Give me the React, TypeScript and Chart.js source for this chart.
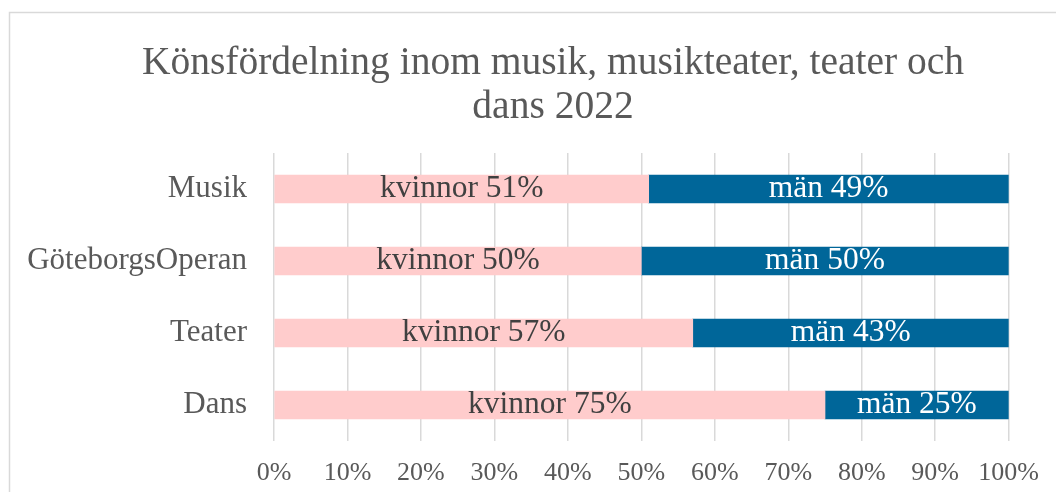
import React, { useEffect, useRef } from "react";
import { Chart, registerables } from "chart.js";

Chart.register(...registerables);

const titleLines = ["Könsfördelning inom musik, musikteater, teater och", "dans 2022"];
const categories = ["Musik", "GöteborgsOperan", "Teater", "Dans"];
const kvinnor = [51, 50, 57, 75];
const man = [49, 50, 43, 25];
const seriesNames = ["kvinnor", "män"];

const FONT = "'Liberation Serif', 'Times New Roman', serif";

const labelPlugin = {
  id: "segLabels",
  beforeDraw(chart: any) {
    const ctx = chart.ctx;
    ctx.save();
    ctx.strokeStyle = "#d9d9d9";
    ctx.lineWidth = 1.5;
    ctx.strokeRect(9.5, 12.5, 1200, 600);
    ctx.restore();
  },
  afterDraw(chart: any) {
    const ctx = chart.ctx;
    ctx.save();
    ctx.font = `39.5px ${FONT}`;
    ctx.fillStyle = "#595959";
    ctx.textAlign = "center";
    ctx.textBaseline = "alphabetic";
    titleLines.forEach((line, i) => {
      ctx.fillText(line, 553, 74 + i * 43.5);
    });
    ctx.restore();
  },
  afterDatasetsDraw(chart: any) {
    const ctx = chart.ctx;
    ctx.save();
    ctx.font = `31.5px ${FONT}`;
    ctx.textAlign = "center";
    ctx.textBaseline = "middle";
    chart.data.datasets.forEach((ds: any, di: number) => {
      const meta = chart.getDatasetMeta(di);
      meta.data.forEach((bar: any, i: number) => {
        const left = Math.min(bar.x, bar.base);
        const right = Math.max(bar.x, bar.base);
        ctx.fillStyle = di === 0 ? "#404040" : "#ffffff";
        ctx.fillText(`${seriesNames[di]} ${ds.data[i]}%`, (left + right) / 2, bar.y);
      });
    });
    ctx.restore();
  },
};

export default function App() {
  const ref = useRef<HTMLCanvasElement | null>(null);
  useEffect(() => {
    if (!ref.current) return;
    const chart = new Chart(ref.current, {
      type: "bar",
      data: {
        labels: categories,
        datasets: [
          { label: seriesNames[0], data: kvinnor, backgroundColor: "#ffcccc", barThickness: 28 },
          { label: seriesNames[1], data: man, backgroundColor: "#006699", barThickness: 28 },
        ],
      },
      options: {
        indexAxis: "y",
        responsive: false,
        animation: false,
        layout: { padding: { left: 0, right: 47, top: 153, bottom: 0 } },
        plugins: {
          legend: { display: false },
          tooltip: { enabled: false },
          title: { display: false },
        },
        scales: {
          x: {
            stacked: true,
            min: 0,
            max: 100,
            ticks: {
              stepSize: 10,
              callback: (v: any) => `${v}%`,
              color: "#595959",
              font: { family: FONT, size: 26 },
              padding: 17,
              maxRotation: 0,
            },
            grid: { color: "#d9d9d9", lineWidth: 1.5, drawTicks: false },
            border: { display: false },
            afterFit: (s: any) => {
              s.height = 51;
            },
          },
          y: {
            stacked: true,
            ticks: {
              color: "#595959",
              font: { family: FONT, size: 31 },
              padding: 27,
            },
            grid: { display: false, drawTicks: false },
            border: { display: false },
            afterFit: (s: any) => {
              s.width = 274;
            },
          },
        },
      },
      plugins: [labelPlugin],
    });
    return () => chart.destroy();
  }, []);
  return (
    <div style={{ position: "fixed", left: 0, top: 0, width: 1056, height: 492, background: "#fff" }}>
      <canvas ref={ref} width={1056} height={492} />
    </div>
  );
}
